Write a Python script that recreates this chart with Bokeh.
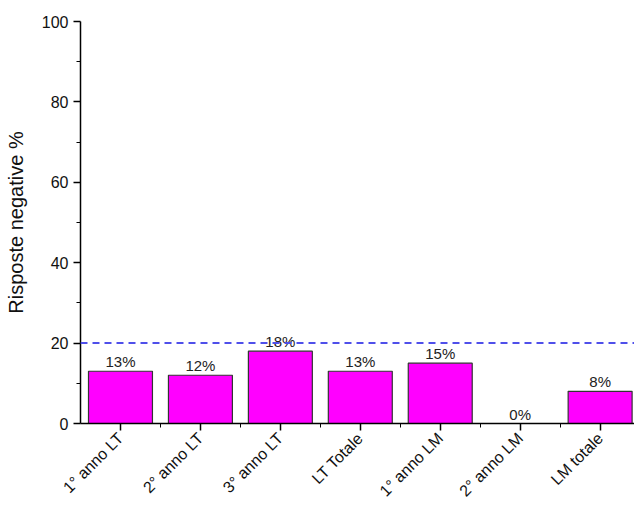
import math
from bokeh.plotting import figure
from bokeh.models import Range1d, FixedTicker, Span, ColumnDataSource
from bokeh.core.properties import value
from bokeh.embed import file_html
from bokeh.resources import INLINE

categories = ["1° anno LT", "2° anno LT", "3° anno LT", "LT Totale",
              "1° anno LM", "2° anno LM", "LM totale"]
values = [13, 12, 18, 13, 15, 0, 8]
threshold = 20
y_ticks = [0, 20, 40, 60, 80, 100]
y_minor = [10, 30, 50, 70, 90]

xs = list(range(len(categories)))
labels = [f"{v}%" for v in values]
src = ColumnDataSource(dict(x=xs, top=values, label=labels))

FONT = "Liberation Sans"

p = figure(width=634, height=508, output_backend="svg", toolbar_location=None,
           x_range=Range1d(-0.5, 6.43), y_range=Range1d(0, 100),
           min_border_left=80, min_border_top=21, min_border_right=0,
           min_border_bottom=10)
p.outline_line_color = None
p.grid.visible = False
p.background_fill_color = "white"
p.border_fill_color = "white"

p.vbar(x="x", top="top", bottom=0, width=0.8, source=src,
       fill_color="#FF00FF", line_color="#333333", line_width=1.2)

p.add_layout(Span(location=threshold, dimension="width", line_color="#4F4FEA",
                  line_width=2, line_dash="7 5"))

p.text(x="x", y="top", text="label", source=src, text_align="center",
       text_baseline="bottom", y_offset=-1, text_font=value(FONT),
       text_font_size="15px", text_color="#222222")

# y axis
ya = p.yaxis[0]
ya.ticker = FixedTicker(ticks=y_ticks, minor_ticks=y_minor)
ya.axis_label = "Risposte negative %"
ya.axis_label_text_font = FONT
ya.axis_label_text_font_style = "normal"
ya.axis_label_text_font_size = "20px"
ya.axis_label_text_color = "#111111"
ya.axis_label_standoff = 12
ya.major_label_text_font = FONT
ya.major_label_text_font_size = "16px"
ya.major_label_text_color = "#111111"
ya.axis_line_width = 1.5
ya.major_tick_in = 0
ya.major_tick_out = 7
ya.minor_tick_in = 0
ya.minor_tick_out = 4
ya.major_tick_line_width = 1.5

# x axis
xa = p.xaxis[0]
xa.ticker = FixedTicker(ticks=xs, minor_ticks=[i + 0.5 for i in xs])
xa.major_label_overrides = {i: c for i, c in zip(xs, categories)}
xa.major_label_orientation = math.pi / 4
xa.major_label_text_font = FONT
xa.major_label_text_font_size = "16px"
xa.major_label_text_color = "#111111"
xa.axis_line_width = 1.5
xa.major_tick_in = 0
xa.major_tick_out = 7
xa.minor_tick_in = 0
xa.minor_tick_out = 4
xa.major_tick_line_width = 1.5

open("out.html", "w").write(file_html(p, INLINE))
